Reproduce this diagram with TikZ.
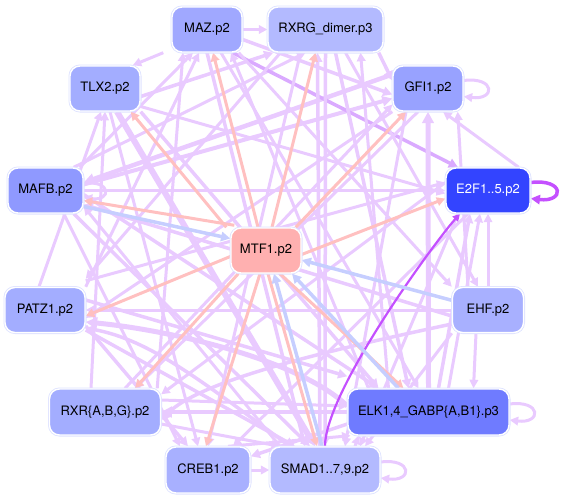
\documentclass[tikz,border=0pt]{standalone}
\usepackage{fontspec}
\setmainfont{TeX Gyre Heros}
\usetikzlibrary{arrows.meta,backgrounds}
\definecolor{pur}{RGB}{233,202,255}
\definecolor{mpur}{RGB}{218,170,255}
\definecolor{dpur}{RGB}{196,80,255}
\definecolor{pnk}{RGB}{255,192,192}
\definecolor{blu}{RGB}{198,206,255}
\definecolor{bordc}{RGB}{222,226,255}
\definecolor{cMAZ}{RGB}{160,168,255}
\definecolor{cRXRG}{RGB}{179,186,255}
\definecolor{cTLX}{RGB}{163,173,255}
\definecolor{cGFI}{RGB}{152,162,255}
\definecolor{cMAFB}{RGB}{143,153,255}
\definecolor{cE2F}{RGB}{51,68,255}
\definecolor{cMTF}{RGB}{255,176,176}
\definecolor{cEHF}{RGB}{168,176,255}
\definecolor{cELK}{RGB}{111,123,255}
\definecolor{cSMAD}{RGB}{179,186,255}
\tikzset{
  tf/.style={preaction={draw=bordc,line width=3pt},draw=white,line width=1.4pt,
    rounded corners=10pt,minimum height=45pt,inner sep=0pt,
    font=\fontsize{13}{15}\selectfont},
  arr/.style={-{Triangle[length=4pt 1.5,width=4pt 1.5]}},
  pe/.style={draw=pur,line width=#1,arr},
  pe/.default=3pt,
  me/.style={draw=mpur,line width=#1,arr},
  me/.default=3.5pt,
  pk/.style={draw=pnk,line width=3pt,arr},
  bu/.style={draw=blu,line width=3.5pt,arr},
  dp/.style={draw=dpur,line width=#1,arr},
  dp/.default=2pt,
}
\begin{document}
\begin{tikzpicture}[x=1pt,y=-1pt]
\useasboundingbox (0,0) rectangle (561,501);
% nodes
\node[tf,fill=cMAZ,minimum width=70pt] (MAZ) at (207,29.5) {MAZ.p2};
\node[tf,fill=cRXRG,minimum width=115pt] (RXRG) at (325.5,29.5) {RXRG\_dimer.p3};
\node[tf,fill=cTLX,minimum width=70pt] (TLX2) at (105,88.5) {TLX2.p2};
\node[tf,fill=cGFI,minimum width=70pt] (GFI1) at (428,88.5) {GFI1.p2};
\node[tf,fill=cMAFB,minimum width=75pt] (MAFB) at (45.5,190.5) {MAFB.p2};
\node[tf,fill=cE2F,minimum width=84pt,text=white] (E2F1) at (488,190.5) {E2F1..5.p2};
\node[tf,fill=cMTF,minimum width=70pt] (MTF1) at (266,250.5) {MTF1.p2};
\node[tf,fill=cTLX,minimum width=80pt] (PATZ1) at (45,310) {PATZ1.p2};
\node[tf,fill=cEHF,minimum width=71pt] (EHF) at (488,310) {EHF.p2};
\node[tf,fill=cTLX,minimum width=111pt,minimum height=46pt] (RXR) at (105,412) {RXR\{A,B,G\}.p2};
\node[tf,fill=cELK,minimum width=161pt,minimum height=46pt] (ELK1) at (428.5,412) {ELK1,4\_GABP\{A,B1\}.p3};
\node[tf,fill=cEHF,minimum width=84pt,minimum height=46pt] (CREB1) at (208,470) {CREB1.p2};
\node[tf,fill=cSMAD,minimum width=110pt,minimum height=46pt] (SMAD) at (325,470) {SMAD1..7,9.p2};
\begin{scope}[on background layer]
% purple edges
\draw[pe] (MAZ) -- (RXRG);
\draw[pe] ([xshift=-8pt]MAZ.south west) -- ([xshift=-8pt]TLX2.north east);
\draw[pe] ([xshift=-4pt]MAFB.north east) -- ([xshift=-14pt]MAZ.south);
\draw[pe=3.5pt] ([yshift=-8pt]TLX2.east) -- ([xshift=6pt]RXRG.south west);
\draw[pe=4pt] ([yshift=6pt]MAFB.east) -- ([yshift=-10pt]GFI1.west);
\draw[pe=4.5pt] ([yshift=14pt]GFI1.west) -- ([yshift=8pt]MAFB.east);
\draw[pe] ([xshift=-10pt]MAFB.north east) -- ([xshift=-20pt]RXRG.south);
\draw[pe=3.5pt] (MAFB) -- (E2F1);
\draw[pe] ([xshift=-14pt]RXR.north) -- (TLX2.south);
\draw[pe=6pt] ([xshift=12pt]TLX2.south) -- ([xshift=-10pt]SMAD.north);
\draw[pe] ([yshift=-18pt]TLX2.east) -- ([yshift=-3pt]E2F1.west);
\draw[pe=3.5pt] (TLX2.south east) -- ([xshift=-50pt]ELK1.north);
\draw[pe] ([xshift=5pt]TLX2.south) -- ([xshift=-10pt]CREB1.north);
\draw[me] ([xshift=-10pt]MAZ.south east) -- ([xshift=-30pt]E2F1.north);
\draw[pe] ([xshift=14pt]MAZ.south) -- ([xshift=-10pt]ELK1.north);
\draw[pe=3.5pt] (MAZ.south) -- ([xshift=-20pt]SMAD.north);
\draw[pe=3.5pt] (MAZ.east) ++(0,10) -- ([yshift=-6pt]GFI1.west);
\draw[pe] ([xshift=-4pt]MAZ.south east) -- (EHF.north west);
\draw[pe=3.5pt] (RXRG.south) -- (SMAD.north);
\draw[pe=3.5pt] ([xshift=10pt]RXRG.south) -- ([xshift=-20pt]ELK1.north);
\draw[pe] ([xshift=20pt]RXRG.south) -- ([xshift=-10pt]EHF.north);
\draw[pe=3.5pt] ([xshift=-5pt]RXRG.south east) -- ([yshift=8pt]GFI1.west);
\draw[pe] ([xshift=-25pt]RXRG.south) -- (CREB1.north);
\draw[pe] ([xshift=-45pt]RXRG.south) -- ([yshift=8pt]PATZ1.north east);
\draw[pe] (GFI1.south west) -- ([yshift=-8pt]PATZ1.east);
\draw[pe] ([xshift=-10pt]GFI1.south) -- ([xshift=30pt]RXR.north);
\draw[pe] ([xshift=-22pt]GFI1.south) -- ([xshift=20pt]SMAD.north);
\draw[pe=5pt] (ELK1.north) -- (GFI1.south);
\draw[pe] ([xshift=-12pt]E2F1.north east) -- ([xshift=15pt]GFI1.south);
\draw[pe] (EHF.north) -- (E2F1.south);
\draw[pe=3.5pt] ([xshift=10pt]ELK1.north) -- ([xshift=-18pt]E2F1.south);
\draw[pe] ([xshift=20pt]ELK1.north) -- ([xshift=-8pt]E2F1.south);
\draw[pe] ([yshift=8pt]E2F1.west) -- ([yshift=-6pt]RXR.north east);
\draw[pe] ([xshift=-20pt]E2F1.south) -- ([xshift=25pt]CREB1.north);
\draw[pe] ([xshift=-30pt]E2F1.south) -- ([xshift=35pt]SMAD.north);
\draw[pe] (EHF.west) -- (PATZ1.east);
\draw[pe=3.5pt] ([yshift=-6pt]EHF.west) -- ([yshift=-14pt]MAFB.east);
\draw[pe] ([xshift=-12pt]EHF.south) -- ([xshift=45pt]ELK1.north);
\draw[pe=3.5pt] ([yshift=-14pt]EHF.west) .. controls (330,350) and (200,380) .. ([yshift=-8pt]RXR.east);
\draw[pe] (EHF.south west) -- ([xshift=40pt]SMAD.north);
\draw[pe] ([xshift=-20pt]EHF.north) -- ([xshift=-6pt]GFI1.south east);
\draw[pe=5pt] ([yshift=6pt]ELK1.west) .. controls (300,360) and (170,330) .. ([yshift=-12pt]PATZ1.east);
\draw[pe=4.5pt] (ELK1.west) -- (RXR.east);
\draw[pe=3.5pt] ([yshift=-12pt]ELK1.west) -- ([yshift=-10pt]CREB1.north east);
\draw[pe] ([xshift=-60pt]ELK1.north) -- ([xshift=24pt]MAZ.south);
\draw[pe] ([xshift=-40pt]ELK1.north) -- ([xshift=35pt]RXRG.south);
\draw[pe=3.5pt] ([xshift=-35pt]SMAD.north) .. controls (200,380) and (150,340) .. ([yshift=-18pt]PATZ1.east);
\draw[pe=3.5pt] ([xshift=-5pt]SMAD.north) -- ([xshift=-8pt]RXRG.south);
\draw[pe] ([xshift=30pt]SMAD.north) -- ([xshift=-70pt]ELK1.south);
\draw[pe] ([xshift=-45pt]SMAD.north) -- ([yshift=-16pt]MAFB.east);
\draw[pe] (CREB1.east) -- (SMAD.west);
\draw[pe] ([xshift=20pt]CREB1.north) -- ([xshift=-78pt]ELK1.south);
\draw[pe] ([yshift=-12pt]RXR.east) -- ([xshift=-45pt]SMAD.north);
\draw[pe] ([yshift=12pt]RXR.east) -- ([yshift=6pt]ELK1.west);
\draw[pe] ([xshift=20pt]RXR.north) -- ([yshift=-16pt]GFI1.west);
\draw[pe] ([xshift=-4pt]RXR.north east) -- ([xshift=-24pt]MAZ.south);
\draw[pe] ([xshift=-6pt]PATZ1.north) -- ([xshift=-4pt]TLX2.south);
\draw[pe] (PATZ1.north east) -- ([xshift=-8pt]MAZ.south);
\draw[pe] ([yshift=6pt]PATZ1.north east) -- ([yshift=8pt]E2F1.west);
\draw[pe=3.5pt] ([yshift=-16pt]PATZ1.east) -- ([xshift=-20pt]CREB1.north);
\draw[pe=3.5pt] ([yshift=10pt]PATZ1.east) -- ([yshift=12pt]ELK1.north west);
\draw[pe=3.5pt] ([yshift=-20pt]PATZ1.east) -- ([xshift=-30pt]SMAD.north);
\draw[pe] ([xshift=-20pt]MAFB.south east) -- ([xshift=-28pt]CREB1.north);
\draw[pe=3.5pt] ([xshift=-10pt]MAFB.south east) -- ([xshift=-15pt]SMAD.north);
\draw[pe=3.5pt] ([yshift=-4pt]MAFB.east) -- ([xshift=-50pt]ELK1.north);
% self loops
\draw[pe] ([yshift=7pt]MAFB.east) .. controls +(28,-4) and +(28,4) .. ([yshift=-7pt]MAFB.east);
\draw[pe] ([yshift=8pt]GFI1.east) .. controls +(32,-4) and +(32,4) .. ([yshift=-8pt]GFI1.east);
\draw[pe] ([yshift=8pt]ELK1.east) .. controls +(32,-4) and +(32,4) .. ([yshift=-8pt]ELK1.east);
\draw[pe] ([yshift=8pt]SMAD.east) .. controls +(32,-4) and +(32,4) .. ([yshift=-8pt]SMAD.east);
\draw[dp=3.5pt] ([yshift=8pt]E2F1.east) .. controls +(34,-4) and +(34,4) .. ([yshift=-8pt]E2F1.east);
% dark purple curve
\draw[dp=2.2pt] (SMAD.north) .. controls +(0,-55) and +(-25,28) .. ([xshift=-28pt]E2F1.south);
% pink edges from MTF1
\draw[pk] ([xshift=-4pt]MTF1.north west) -- ([xshift=-10pt]TLX2.south east);
\draw[pk] ([xshift=-8pt]MTF1.north) -- ([xshift=6pt]MAZ.south);
\draw[pk] ([xshift=6pt]MTF1.north) -- ([xshift=-10pt]RXRG.south);
\draw[pk] ([xshift=-6pt]MTF1.north east) -- ([xshift=-22pt]GFI1.south);
\draw[pk] ([yshift=-4pt]MTF1.east) -- ([yshift=-8pt]E2F1.west);
\draw[pk] ([xshift=4pt,yshift=2pt]MTF1.north west) -- ([yshift=-10pt]MAFB.east);
\draw[pk] ([yshift=-6pt]MTF1.west) -- ([yshift=-6pt]PATZ1.east);
\draw[pk] ([xshift=8pt]MTF1.south west) -- ([xshift=30pt]RXR.north);
\draw[pk] ([xshift=-6pt]MTF1.south) -- ([xshift=-2pt]CREB1.north);
\draw[pk] ([xshift=2pt]MTF1.south) -- ([xshift=-8pt]SMAD.north);
\draw[pk] ([xshift=14pt]MTF1.south) -- ([xshift=-25pt]ELK1.north);
% blue edges into MTF1
\draw[bu] ([yshift=-16pt]MAFB.east) -- ([yshift=12pt]MTF1.west);
\draw[bu] (EHF) -- (MTF1);
\draw[bu] ([xshift=-30pt]ELK1.north) -- ([xshift=26pt]MTF1.south);
\draw[bu] ([xshift=-3pt]SMAD.north) -- ([xshift=8pt]MTF1.south);
\end{scope}
\end{tikzpicture}
\end{document}
